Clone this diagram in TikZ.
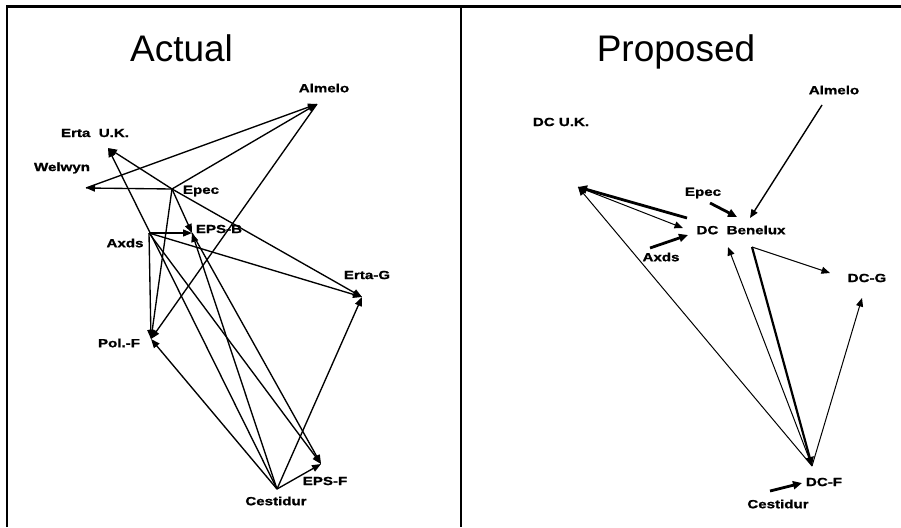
\documentclass[tikz,border=0pt]{standalone}
\usepackage{fontspec}
\setmainfont{Liberation Sans}
\newfontfamily\lblfont[FakeStretch=1.28,FakeBold=1.2]{Liberation Sans Bold}
\usetikzlibrary{arrows.meta}
\tikzset{
  lbl/.style={inner sep=0pt,font=\lblfont\fontsize{11.8}{12}\selectfont},
  ttl/.style={inner sep=0pt,anchor=base,font=\fontsize{37}{40}\selectfont},
  la/.style={line width=1.35pt,-{Triangle[length=9pt,width=7pt]}},
  ra/.style={line width=1pt,-{Triangle[length=8.5pt,width=7pt]}},
  rt/.style={line width=2.8pt,-{Triangle[length=9pt,width=8pt]}},
  frame/.style={line width=2.2pt}
}
\begin{document}
\begin{tikzpicture}[x=1pt,y=-1pt]
\useasboundingbox (0,0) rectangle (901,527);
% frame
\coordinate (fTL) at (7,6.5);
\coordinate (fTR) at (901,6.5);
\coordinate (fBL) at (7,527);
\coordinate (dT) at (461,6.5);
\coordinate (dB) at (461,527);
\draw[frame] (fBL) -- (fTL) -- (fTR);
\draw[frame] (dT) -- (dB);
% titles
\node[ttl] (tA) at (181.5,62) {Actual};
\node[ttl] (tP) at (676,62) {Proposed};

% ---------- Actual ----------
\coordinate (alm) at (317,104);
\coordinate (euk) at (108,148);
\coordinate (wel) at (86,188);
\coordinate (epe) at (172,189);
\coordinate (epsb) at (192,233);
\coordinate (axd) at (149,233);
\coordinate (ertg) at (362,297);
\coordinate (pol) at (151,339);
\coordinate (ces) at (277,489);
\coordinate (epsf) at (321,464);

\draw[la] (epe) -- (wel);
\draw[la] (wel) -- (alm);
\draw[la] (epe) -- (alm);
\draw[la] (alm) -- (pol);
\draw[la] (epe) -- (euk);
\draw[la] (epe) -- (ertg);
\draw[la] (epe) -- (epsb);
\draw[la] (epe) -- (pol);
\draw[la] (axd) -- (epsb);
\draw[la] (axd) -- (pol);
\draw[la] (axd) -- (ertg);
\draw[la] (axd) -- (epsf);
\draw[la] (ces) -- (epsb);
\draw[la] (epsb) -- (epsf);
\draw[la] (ces) -- (euk);
\draw[la] (ces) -- (pol);
\draw[la] (ces) -- (ertg);
\draw[la] (ces) -- (epsf);

\node[lbl] (lAlm) at (324,88) {Almelo};
\node[lbl] (lEuk) at (95,133) {Erta\ \ U.K.};
\node[lbl] (lWel) at (62,168) {Welwyn};
\node[lbl] (lEpe) at (201,191) {Epec};
\node[lbl] (lEpsb) at (219,229) {EPS-B};
\node[lbl] (lAxd) at (125,243) {Axds};
\node[lbl] (lErtg) at (367,275) {Erta-G};
\node[lbl] (lPol) at (119,343) {Pol.-F};
\node[lbl] (lEpsf) at (325,481) {EPS-F};
\node[lbl] (lCes) at (276,501) {Cestidur};

% ---------- Proposed ----------
\coordinate (ralmS) at (822,105);
\coordinate (ralmE) at (750,218);
\coordinate (rdcuk) at (578,187);
\coordinate (rbenA) at (687,218);
\coordinate (rbenB) at (683,228);
\coordinate (repS) at (710,203);
\coordinate (repE) at (737,217);
\coordinate (raxS) at (650,248);
\coordinate (raxE) at (688,235);
\coordinate (rbenL) at (728,247);
\coordinate (rbenR) at (752,247);
\coordinate (rdcf) at (812,466);
\coordinate (rdcgA) at (830,273);
\coordinate (rdcgB) at (862,298);
\coordinate (rcesS) at (770,491);
\coordinate (rcesE) at (802,483);

\draw[ra,line width=1.4pt] (ralmS) -- (ralmE);
\draw[rt] (rbenA) -- (rdcuk);
\draw[ra] (rdcuk) -- (rbenB);
\draw[rt] (repS) -- (repE);
\draw[rt] (raxS) -- (raxE);
\draw[ra] (rdcf) -- (rdcuk);
\draw[ra] (rdcf) -- (rbenL);
\draw[line width=2.2pt,-{Triangle[length=9pt,width=8pt]}] (rbenR) -- (rdcf);
\draw[ra] (rbenR) -- (rdcgA);
\draw[ra] (rdcf) -- (rdcgB);
\draw[rt] (rcesS) -- (rcesE);

\node[lbl] (rlAlm) at (834,90) {Almelo};
\node[lbl] (rlUk) at (561,122) {DC U.K.};
\node[lbl] (rlEpe) at (703,193) {Epec};
\node[lbl] (rlBen) at (741,230) {DC\ \ Benelux};
\node[lbl] (rlAxd) at (661,257) {Axds};
\node[lbl] (rlG) at (867,278) {DC-G};
\node[lbl] (rlF) at (824,482) {DC-F};
\node[lbl] (rlCes) at (778,504) {Cestidur};
\end{tikzpicture}
\end{document}
